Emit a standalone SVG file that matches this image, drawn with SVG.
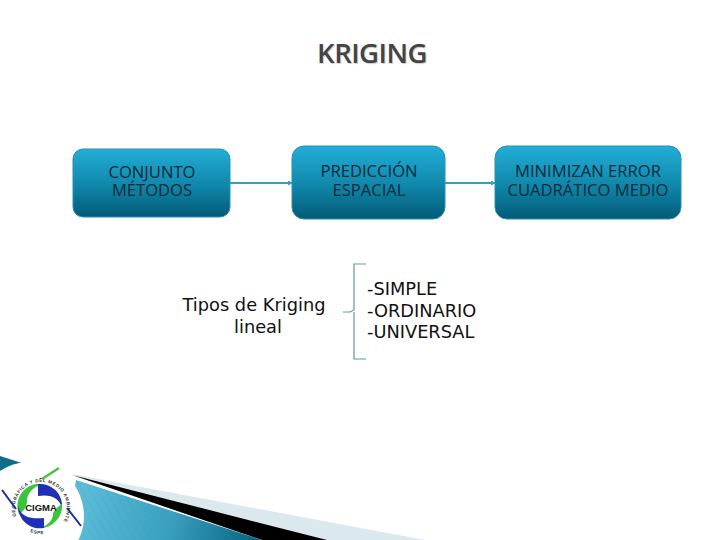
<svg xmlns="http://www.w3.org/2000/svg" width="720" height="540" viewBox="0 0 720 540">
<style>
.box{stroke:#2a8fb0;stroke-width:1;fill:url(#bx)}
.bt{font-family:"Open Sans","Liberation Sans",sans-serif;font-size:16.6px;fill:#0a2a3c;text-anchor:middle}
.dj{font-family:"DejaVu Sans",sans-serif;font-size:17.8px;fill:#111}
.cn{fill:none;stroke:#3a9dbd;stroke-width:2}
.ring{font-family:"Liberation Sans",sans-serif;font-size:4.6px;font-weight:bold;fill:#333;letter-spacing:.55px}
</style>
<defs>
<linearGradient id="bx" x1="0" y1="0" x2="0" y2="1"><stop offset="0" stop-color="#22aed8"/><stop offset="0.55" stop-color="#0f86a8"/><stop offset="1" stop-color="#035a78"/></linearGradient>
<linearGradient id="sw" gradientUnits="userSpaceOnUse" x1="80" y1="500" x2="262" y2="540"><stop offset="0" stop-color="#5cbcd8"/><stop offset="0.5" stop-color="#3a9fc0"/><stop offset="1" stop-color="#05617f"/></linearGradient>
<pattern id="hatch" width="7" height="7" patternUnits="userSpaceOnUse" patternTransform="rotate(-30)"><path d="M0 0V7" stroke="#2f8fae" stroke-width=".6" opacity=".45"/></pattern>
<marker id="ah" markerWidth="5" markerHeight="5" refX="4" refY="2.5" orient="auto" markerUnits="userSpaceOnUse"><path d="M0 0L5 2.5L0 5Z" fill="#3a9dbd"/></marker>
<path id="arcT" d="M18 520A26 26 0 1 1 64 520"/>
<path id="arcB" d="M30 532A29 29 0 0 0 52 532"/>
</defs>
<rect width="720" height="540" fill="#fff"/>
<g id="decor">
<path d="M0 456L28 465L0 491Z" fill="#0f6d88"/>
<path d="M72 474L425 540L262 540Z" fill="#dbe9ef"/>
<path d="M72 475L327 540L262 540Z" fill="#000"/>
<path d="M76 480L262 540L66 540Z" fill="url(#sw)"/>
<path d="M76 480L262 540L66 540Z" fill="url(#hatch)"/>
</g>
<g id="logo">
<circle cx="30" cy="516" r="54" fill="#fff"/>
<path d="M2 490L16 509M67 508L81 526" stroke="#1c2f9a" stroke-width="2" fill="none"/>
<path d="M42 479L59 468" stroke="#4cc23a" stroke-width="2.5" fill="none"/>
<path d="M19 514A22 22 0 0 1 42 484C31 488 27 495 27 501C27 507 24 511 19 514Z" fill="#3cc43c"/>
<path d="M38 484A22 22 0 0 1 62 508C59 497 50 494 38 496Z" fill="#1f2fb8"/>
<path d="M62 504A22 22 0 0 1 40 528C50 525 53 518 53 514C54 510 57 507 62 504Z" fill="#3cc43c"/>
<path d="M44 528A22 22 0 0 1 18 506C21 518 32 519 44 518Z" fill="#1f2fb8"/>
<text class="ring"><textPath href="#arcT" startOffset="4">GEOGRÁFICA Y DEL MEDIO AMBIENTE</textPath></text>
<text class="ring"><textPath href="#arcB">ESPE</textPath></text>
<text x="41" y="511" font-family="Liberation Sans,sans-serif" font-size="9.5" font-weight="bold" fill="#111" text-anchor="middle" style="text-shadow:0 0 1px #fff">CIGMA</text>
</g>
<text id="title" x="372" y="63" font-family="Open Sans,Liberation Sans,sans-serif" font-size="27.5" font-weight="600" letter-spacing="-.5" fill="#444" text-anchor="middle" style="text-shadow:1px 1px 1px #ccc">KRIGING</text>
<g id="connectors">
<path class="cn" d="M230 183H292" marker-end="url(#ah)"/>
<path class="cn" d="M445 183H495" marker-end="url(#ah)"/>
<path d="M343 312H350L354 310V264H366M354 312V359H366" fill="none" stroke="#5b9aa0" stroke-width="1.2"/>
</g>
<g id="n1"><rect class="box" x="73" y="149" width="157" height="68" rx="10"/><text class="bt" x="152" y="178">CONJUNTO</text><text class="bt" x="152" y="196">MÉTODOS</text></g>
<g id="n2"><rect class="box" x="292" y="146" width="153" height="73" rx="12"/><text class="bt" x="369" y="177">PREDICCIÓN</text><text class="bt" x="369" y="196">ESPACIAL</text></g>
<g id="n3"><rect class="box" x="495" y="146" width="186" height="73" rx="12"/><text class="bt" x="588" y="177">MINIMIZAN ERROR</text><text class="bt" x="588" y="196">CUADRÁTICO MEDIO</text></g>
<g id="n4"><text class="dj" x="254" y="311" text-anchor="middle">Tipos de Kriging</text><text class="dj" x="258" y="333" text-anchor="middle">lineal</text></g>
<g id="n5"><text class="dj" x="367" y="295">-SIMPLE</text><text class="dj" x="367" y="317">-ORDINARIO</text><text class="dj" x="367" y="338">-UNIVERSAL</text></g>
</svg>
